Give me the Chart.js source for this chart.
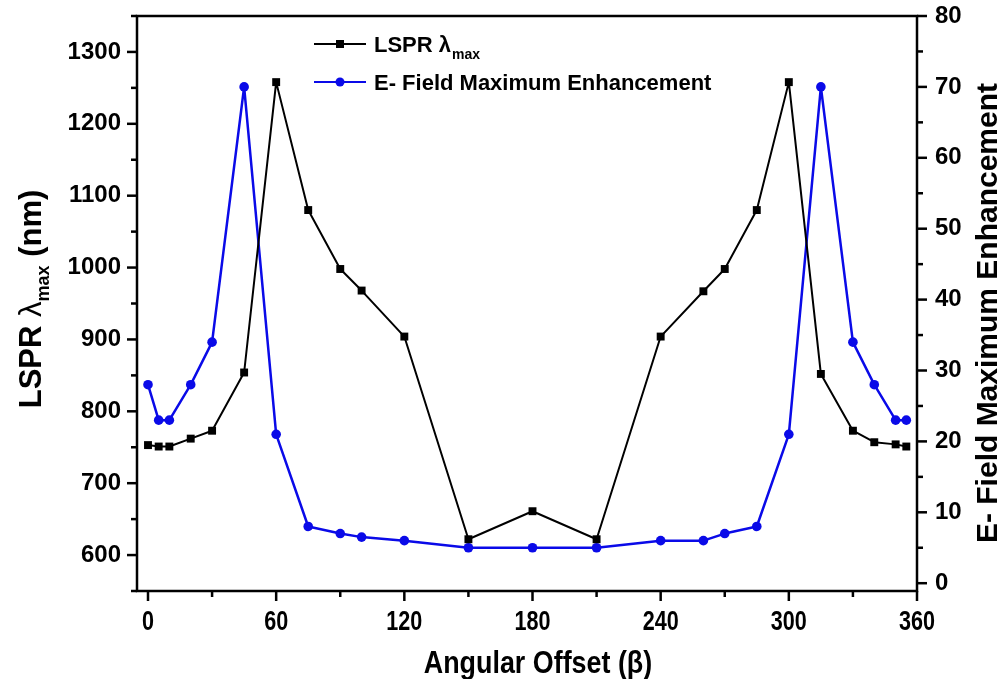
<!DOCTYPE html>
<html>
<head>
<meta charset="utf-8">
<script src="https://cdn.jsdelivr.net/npm/chart.js@4.4.1/dist/chart.umd.min.js"></script>
<style>
  html, body { margin: 0; padding: 0; background: #fff; }
  #wrap { width: 1005px; height: 679px; }
</style>
</head>
<body>
<div id="wrap"><canvas id="chart" width="1005" height="679"></canvas></div>
<script>
// angular offset (deg) shared by both series
const angles = [0, 5, 10, 20, 30, 45, 60, 75, 90, 100, 120, 150, 180, 210, 240, 260, 270, 285, 300, 315, 330, 340, 350, 355];
// LSPR lambda max (nm)
const lsprMax = [753, 751, 751, 762, 773, 854, 1258, 1080, 998, 968, 904, 622, 661, 622, 904, 967, 998, 1080, 1258, 852, 773, 757, 754, 751];
// E-field maximum enhancement
const fieldEnh = [28, 23, 23, 28, 34, 70, 21, 8, 7, 6.5, 6, 5, 5, 5, 6, 6, 7, 8, 21, 70, 34, 28, 23, 23];

const xTicks = [0, 60, 120, 180, 240, 300, 360];
const xMinor = [30, 90, 150, 210, 270, 330];
const leftTicks = [600, 700, 800, 900, 1000, 1100, 1200, 1300];
const leftMinor = [550, 650, 750, 850, 950, 1050, 1150, 1250, 1350];
const rightTicks = [0, 10, 20, 30, 40, 50, 60, 70, 80];
const rightMinor = [5, 15, 25, 35, 45, 55, 65, 75];

const BLUE = '#0a0ae8';
const SANS = "'Liberation Sans', Arial, sans-serif";

function toPoints(ys) {
  return angles.map((a, i) => ({ x: a, y: ys[i] }));
}

function tickLine(ctx, x1, y1, x2, y2) {
  ctx.beginPath();
  ctx.moveTo(x1, y1);
  ctx.lineTo(x2, y2);
  ctx.stroke();
}

// squeezed text, the x axis of the original uses a narrow face
function narrowText(ctx, text, x, y, font, squeeze) {
  ctx.save();
  ctx.translate(x, y);
  ctx.scale(squeeze, 1);
  ctx.font = font;
  ctx.textAlign = 'center';
  ctx.textBaseline = 'alphabetic';
  ctx.fillText(text, 0, 0);
  ctx.restore();
}

// frame, minor/major tick marks, titles and legend
const decorPlugin = {
  id: 'decor',
  afterDraw(chart) {
    const { ctx, chartArea: a, scales } = chart;
    const x = scales.x, yL = scales.yL, yR = scales.yR;
    ctx.save();
    ctx.strokeStyle = '#000';
    ctx.lineCap = 'butt';

    ctx.lineWidth = 2.5;
    ctx.strokeRect(a.left, a.top, a.right - a.left, a.bottom - a.top);

    xTicks.forEach((v) => { const p = x.getPixelForValue(v); tickLine(ctx, p, a.bottom, p, a.bottom + 10); });
    xMinor.forEach((v) => { const p = x.getPixelForValue(v); tickLine(ctx, p, a.bottom, p, a.bottom + 6); });
    leftTicks.forEach((v) => { const p = yL.getPixelForValue(v); tickLine(ctx, a.left, p, a.left - 10, p); });
    leftMinor.forEach((v) => { const p = yL.getPixelForValue(v); tickLine(ctx, a.left, p, a.left - 6, p); });
    rightTicks.forEach((v) => { const p = yR.getPixelForValue(v); tickLine(ctx, a.right, p, a.right + 10, p); });
    rightMinor.forEach((v) => { const p = yR.getPixelForValue(v); tickLine(ctx, a.right, p, a.right + 6, p); });

    ctx.fillStyle = '#000';

    // x tick labels and title
    xTicks.forEach((v) => {
      narrowText(ctx, String(v), x.getPixelForValue(v), 630, 'bold 27px ' + SANS, 0.8);
    });
    narrowText(ctx, 'Angular Offset (\u03b2)', 538, 673, 'bold 32px ' + SANS, 0.84);

    // left title with subscript
    const parts = [
      { t: 'LSPR ', f: 'bold 31px ' + SANS, dy: 0 },
      { t: '\u03bb', f: '31px ' + SANS, dy: 0 },
      { t: 'max', f: 'bold 18px ' + SANS, dy: 8 },
      { t: ' (nm)', f: 'bold 31px ' + SANS, dy: 0 },
    ];
    let total = 0;
    parts.forEach((p) => { ctx.font = p.f; p.w = ctx.measureText(p.t).width; total += p.w; });
    ctx.save();
    ctx.translate(41, 299);
    ctx.rotate(-Math.PI / 2);
    ctx.textAlign = 'left';
    let cx = -total / 2;
    parts.forEach((p) => { ctx.font = p.f; ctx.fillText(p.t, cx, p.dy); cx += p.w; });
    ctx.restore();

    // right title
    ctx.save();
    ctx.translate(997, 313);
    ctx.rotate(-Math.PI / 2);
    ctx.textAlign = 'center';
    ctx.font = 'bold 30px ' + SANS;
    ctx.fillText('E- Field Maximum Enhancement', 0, 0);
    ctx.restore();

    // legend
    const ds = chart.data.datasets;
    const rows = [
      { y: 44, d: ds[0], label: 'LSPR \u03bb', sub: 'max' },
      { y: 82, d: ds[1], label: 'E- Field Maximum Enhancement', sub: '' },
    ];
    rows.forEach((r) => {
      ctx.strokeStyle = r.d.borderColor;
      ctx.fillStyle = r.d.borderColor;
      ctx.lineWidth = 2;
      tickLine(ctx, 314, r.y, 366, r.y);
      if (r.d.pointStyle === 'rect') {
        ctx.fillRect(336, r.y - 4, 8, 8);
      } else {
        ctx.beginPath();
        ctx.arc(340, r.y, 4.5, 0, Math.PI * 2);
        ctx.fill();
      }
      ctx.fillStyle = '#000';
      ctx.textAlign = 'left';
      ctx.font = 'bold 22px ' + SANS;
      ctx.fillText(r.label, 374, r.y + 8);
      if (r.sub) {
        const w = ctx.measureText(r.label).width;
        ctx.font = 'bold 14px ' + SANS;
        ctx.fillText(r.sub, 374 + w + 1, r.y + 15);
      }
    });
    ctx.restore();
  },
};

function noPadY(s, w) {
  s.width = w;
  s.paddingTop = 0;
  s.paddingBottom = 0;
}

new Chart(document.getElementById('chart'), {
  type: 'line',
  data: {
    datasets: [
      {
        label: 'LSPR lambda max',
        data: toPoints(lsprMax),
        yAxisID: 'yL',
        borderColor: '#000',
        backgroundColor: '#000',
        borderWidth: 2,
        borderJoinStyle: 'round',
        pointStyle: 'rect',
        pointRadius: 5.6,
        pointBorderWidth: 0,
        tension: 0,
      },
      {
        label: 'E- Field Maximum Enhancement',
        data: toPoints(fieldEnh),
        yAxisID: 'yR',
        borderColor: BLUE,
        backgroundColor: BLUE,
        borderWidth: 2.5,
        borderJoinStyle: 'round',
        pointStyle: 'circle',
        pointRadius: 4.8,
        pointBorderWidth: 0,
        tension: 0,
      },
    ],
  },
  options: {
    responsive: false,
    animation: false,
    layout: { padding: { top: 16, left: 0, right: 0, bottom: 0 } },
    plugins: {
      legend: { display: false },
      tooltip: { enabled: false },
    },
    scales: {
      x: {
        type: 'linear',
        min: -5.15,
        max: 360,
        afterBuildTicks: (s) => { s.ticks = xTicks.map((v) => ({ value: v })); },
        afterFit: (s) => { s.height = 88; s.paddingLeft = 0; s.paddingRight = 0; },
        grid: { display: false },
        border: { display: false },
        ticks: { display: false },
      },
      yL: {
        type: 'linear',
        position: 'left',
        min: 550,
        max: 1350,
        afterBuildTicks: (s) => { s.ticks = leftTicks.map((v) => ({ value: v })); },
        afterFit: (s) => noPadY(s, 137),
        grid: { display: false },
        border: { display: false },
        ticks: {
          padding: 8,
          color: '#000',
          callback: (v) => String(v),
          font: { family: SANS, size: 24, weight: 'bold' },
        },
      },
      yR: {
        type: 'linear',
        position: 'right',
        min: -1.1,
        max: 80,
        afterBuildTicks: (s) => { s.ticks = rightTicks.map((v) => ({ value: v })); },
        afterFit: (s) => noPadY(s, 88),
        grid: { display: false },
        border: { display: false },
        ticks: {
          padding: 10,
          color: '#000',
          callback: (v) => String(v),
          font: { family: SANS, size: 24, weight: 'bold' },
        },
      },
    },
  },
  plugins: [decorPlugin],
});
</script>
</body>
</html>
